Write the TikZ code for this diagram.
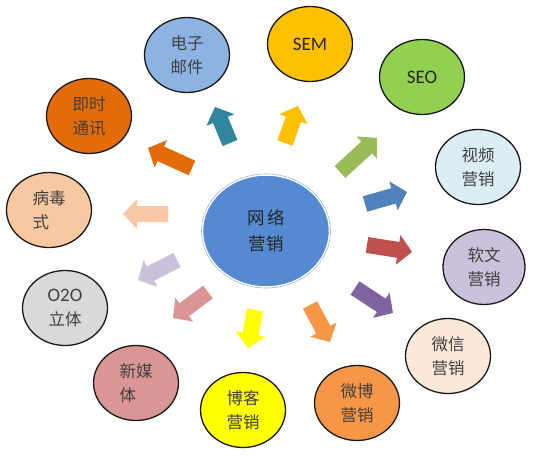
\documentclass[tikz,border=0pt]{standalone}
\usepackage{fontspec}
\newfontfamily\cjk{Noto Sans CJK SC}
\newfontfamily\lat{Carlito}
\usetikzlibrary{calc,shapes.geometric}
\definecolor{cA}{HTML}{8DB3E2}
\definecolor{cB}{HTML}{E36C09}
\definecolor{cC}{HTML}{FAC8A0}
\definecolor{cD}{HTML}{FFC000}
\definecolor{cE}{HTML}{92D050}
\definecolor{cF}{HTML}{DBEEF4}
\definecolor{cG}{HTML}{CCC1DA}
\definecolor{cH}{HTML}{FDE9D9}
\definecolor{cI}{HTML}{F79646}
\definecolor{cJ}{HTML}{FFFF00}
\definecolor{cK}{HTML}{D99694}
\definecolor{cL}{HTML}{D9D9D9}
\definecolor{cM}{HTML}{558AD2}
\definecolor{aTeal}{HTML}{31859C}
\definecolor{aGreen}{HTML}{9BBB59}
\definecolor{aBlue}{HTML}{4F81BD}
\definecolor{aRed}{HTML}{C0504D}
\definecolor{aPurple}{HTML}{8064A2}
\definecolor{aPeach}{HTML}{FAC8A6}
\newcommand\blockarr[4]{%
  \coordinate (#1t) at #2; \coordinate (#1h) at #3;
  \coordinate (#1b) at ($(#1h)!14pt!(#1t)$);
  \fill[#4] ($(#1t)!8pt!90:(#1h)$) -- ($(#1b)!8pt!90:(#1h)$) -- ($(#1b)!15pt!90:(#1h)$)
    -- (#1h) -- ($(#1b)!15pt!-90:(#1h)$) -- ($(#1b)!8pt!-90:(#1h)$) -- ($(#1t)!8pt!-90:(#1h)$) -- cycle;
}
\newcommand\cz{\cjk\fontsize{16.5}{24}\selectfont}
\tikzset{
  bub/.style={ellipse, minimum width=85pt, minimum height=75pt, inner sep=0pt,
    draw=black!90, line width=1.3pt, align=center, text=black!75, font=\cz},
  latbub/.style={bub, font=\lat\fontsize{19}{24}\selectfont, text=black!85},
}
\begin{document}
\begin{tikzpicture}[x=1pt,y=-1pt]
\useasboundingbox (0,0) rectangle (554,460);
% arrows
\blockarr{a1}{(230,143)}{(215,107)}{aTeal}
\blockarr{a2}{(192,168)}{(148,148)}{cB}
\blockarr{a3}{(168,214)}{(123,214)}{aPeach}
\blockarr{a4}{(285,143)}{(298,106)}{cD}
\blockarr{a5}{(340,172)}{(377,138)}{aGreen}
\blockarr{a6}{(365,204)}{(407,192)}{aBlue}
\blockarr{a7}{(367,245)}{(412,252)}{aRed}
\blockarr{a8}{(355,288)}{(393,313)}{aPurple}
\blockarr{a9}{(310,305)}{(330,342)}{cI}
\blockarr{a10}{(255,310)}{(248,348)}{cJ}
\blockarr{a11}{(208,292)}{(173,318)}{cK}
\blockarr{a12}{(177,260)}{(138,280)}{cG}
% center
\node[ellipse, minimum width=127pt, minimum height=112pt, inner sep=0pt, fill=cM,
  draw=white, line width=1.5pt, align=center, text=black!85,
  font=\cjk\fontsize{17.5}{26}\selectfont] (c) at (266,231) {网\,络\\营销};
\draw[color=cM!60, line width=0.6pt] (c.center) ellipse (64.5pt and 57pt);
% bubbles
\node[bub, fill=cA] (n1) at (187,55) {电子\\邮件};
\node[bub, fill=cB] (n2) at (89,116) {即时\\通讯};
\node[bub, fill=cC, align=left] (n3) at (49,210) {病毒\\式};
\node[latbub, fill=cD] (n4) at (310,44) {SEM};
\node[latbub, fill=cE] (n5) at (422,77) {SEO};
\node[bub, fill=cF] (n6) at (478,167) {视频\\营销};
\node[bub, fill=cG, minimum width=82pt] (n7) at (484,267) {软文\\营销};
\node[bub, fill=cH] (n8) at (448,356) {微信\\营销};
\node[bub, fill=cI] (n9) at (357,403) {微博\\营销};
\node[bub, fill=cJ] (n10) at (243,410) {博客\\营销};
\node[bub, fill=cK, align=left] (n11) at (136,383) {新媒\\体};
\node[bub, fill=cL, font=\lat\fontsize{19}{24}\selectfont] (n12) at (65,308) {O2O\\{\cz 立体}};
\end{tikzpicture}
\end{document}
